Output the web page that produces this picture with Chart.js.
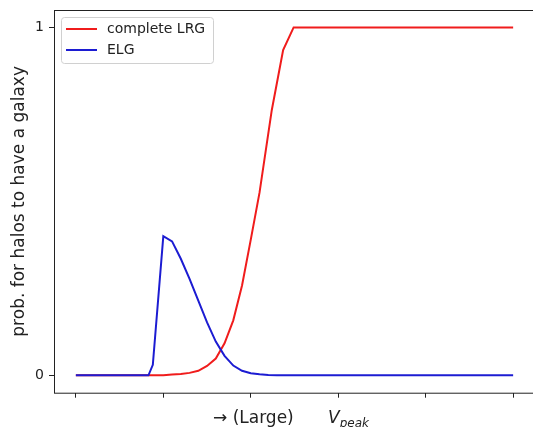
<!DOCTYPE html>
<html>
<head>
<meta charset="utf-8">
<script src="https://cdn.jsdelivr.net/npm/chart.js@4/dist/chart.umd.min.js"></script>
<style>
  html, body { margin: 0; padding: 0; background: #fff; overflow: hidden; }
  #wrap { width: 537px; height: 427px; }
</style>
</head>
<body>
<div id="wrap"><canvas id="c" width="537" height="427"></canvas></div>
<script>
// ── data (x in tick units, 0..5) ──
const lrgLabel = 'complete LRG';
const lrgX = [0, 1.0, 1.1, 1.2, 1.3, 1.4, 1.5, 1.6, 1.7, 1.8, 1.9, 2.0, 2.1, 2.24, 2.37, 2.49, 5];
const lrgY = [0, 0, 0.002, 0.004, 0.007, 0.013, 0.027, 0.048, 0.092, 0.158, 0.258, 0.39, 0.525, 0.762, 0.935, 1, 1];

const elgLabel = 'ELG';
const elgX = [0, 0.83, 0.88, 1.0, 1.1, 1.2, 1.3, 1.4, 1.5, 1.6, 1.7, 1.8, 1.9, 2.0, 2.1, 2.2, 2.3, 5];
const elgY = [0, 0, 0.03, 0.40, 0.385, 0.335, 0.277, 0.215, 0.152, 0.097, 0.056, 0.028, 0.013, 0.006, 0.003, 0.001, 0, 0];

const xTickVals = [0, 1, 2, 3, 4, 5];
const yTickVals = [0, 1];
const yTickLabels = ['0', '1'];

const RED = '#f01c1c';
const BLUE = '#1c1cd2';
const FONT = 'DejaVu Sans, sans-serif';

const pts = (xs, ys) => xs.map((x, i) => ({ x, y: ys[i] }));

// frame, legend box inside the axes, and the x label with subscript
const extras = {
  id: 'extras',
  afterDraw(chart) {
    const { ctx, chartArea: a } = chart;
    ctx.save();
    ctx.strokeStyle = '#222';
    ctx.lineWidth = 1;
    ctx.strokeRect(a.left + 0.5, a.top + 0.5, a.right - a.left - 1, a.bottom - a.top);

    // legend
    ctx.beginPath();
    ctx.roundRect(61.5, 17.5, 152, 46, 3);
    ctx.fillStyle = 'rgba(255,255,255,0.8)';
    ctx.fill();
    ctx.strokeStyle = '#d0d0d0';
    ctx.stroke();
    const items = [[lrgLabel, RED], [elgLabel, BLUE]];
    items.forEach(([lbl, col], i) => {
      const y = 29 + i * 21;
      ctx.beginPath();
      ctx.strokeStyle = col;
      ctx.lineWidth = 2;
      ctx.moveTo(66, y); ctx.lineTo(97, y);
      ctx.stroke();
      ctx.fillStyle = '#222';
      ctx.font = '14px ' + FONT;
      ctx.textBaseline = 'middle';
      ctx.textAlign = 'left';
      ctx.fillText(lbl, 107, y);
    });

    // x label
    ctx.fillStyle = '#222';
    ctx.font = '17px ' + FONT;
    ctx.textBaseline = 'alphabetic';
    ctx.fillText('\u2192 (Large)', 213, 423);
    ctx.font = 'italic 17px ' + FONT;
    ctx.fillText('V', 328, 423);
    const vw = ctx.measureText('V').width;
    ctx.font = 'italic 12px ' + FONT;
    ctx.fillText('peak', 328 + vw, 427);
    ctx.restore();
  }
};

new Chart(document.getElementById('c'), {
  type: 'line',
  data: {
    datasets: [
      { label: lrgLabel, data: pts(lrgX, lrgY), borderColor: RED, borderWidth: 2, pointRadius: 0, tension: 0, order: 1 },
      { label: elgLabel, data: pts(elgX, elgY), borderColor: BLUE, borderWidth: 2, pointRadius: 0, tension: 0, order: 0 }
    ]
  },
  options: {
    responsive: false,
    animation: false,
    devicePixelRatio: 1,
    layout: { padding: { top: 10, right: 2, left: 0, bottom: 0 } },
    plugins: { legend: { display: false }, tooltip: { enabled: false } },
    scales: {
      x: {
        type: 'linear', min: -0.25, max: 5.25,
        afterBuildTicks: s => { s.ticks = xTickVals.map(v => ({ value: v })); },
        afterFit: s => { s.height = 34.3; s.paddingLeft = 0; s.paddingRight = 0; },
        ticks: { callback: () => '' },
        grid: { drawOnChartArea: false, drawTicks: true, tickLength: 5, tickColor: '#222', tickWidth: 1 },
        border: { display: false }
      },
      y: {
        type: 'linear', min: -0.05, max: 1.05,
        afterBuildTicks: s => { s.ticks = yTickVals.map(v => ({ value: v })); },
        afterFit: s => { s.width = 54; s.paddingTop = 0; s.paddingBottom = 0; },
        ticks: { callback: (v, i) => yTickLabels[i], color: '#222', font: { family: FONT, size: 14 }, padding: 5 },
        grid: { drawOnChartArea: false, drawTicks: true, tickLength: 5, tickColor: '#222', tickWidth: 1 },
        border: { display: false },
        title: { display: true, text: 'prob. for halos to have a galaxy', color: '#222', font: { family: FONT, size: 17 }, padding: { top: 9, bottom: 0 } }
      }
    }
  },
  plugins: [extras]
});
</script>
</body>
</html>
